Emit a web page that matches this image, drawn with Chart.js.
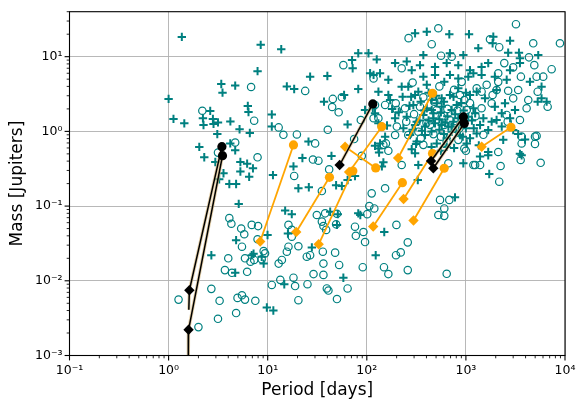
<!DOCTYPE html>
<html><head><meta charset="utf-8">
<script src="https://cdn.jsdelivr.net/npm/chart.js@4.4.1/dist/chart.umd.min.js"></script>
<style>html,body{margin:0;padding:0;background:#fff}#wrap{width:576px;height:399px;position:relative}</style>
</head><body><div id="wrap"><canvas id="c"></canvas></div>
<script>
// ---- data: [period (days), mass (Jupiter masses)] ----
const crossPoints = [
[1.36,18.4],[1.0,2.72],[1.12,1.47],[1.44,1.28],[2.04,0.62],[8.5,14.4],[13.7,12.6],[7.9,6.4],[3.4,4.3],[3.5,3.3],
[4.7,4.1],[15.6,4.0],[18.5,3.7],[26.8,5.4],[40,5.5],[72,7.0],[2.63,1.88],[2.22,1.5],[2.8,1.47],[2.25,1.22],
[2.84,1.26],[3.15,1.32],[4.2,1.36],[6.3,2.19],[6.4,1.82],[11.0,1.68],[11.0,1.16],[37,2.5],[64,1.24],[5.2,1.07],
[6.6,0.95],[3.1,0.92],[82,3.7],[82,11.1],[2.29,0.45],[2.96,0.39],[3.58,0.275],[3.24,0.228],[4.19,0.69],[4.7,0.56],
[5.3,0.39],[6.2,0.37],[7.1,0.32],[5.3,0.29],[6.5,0.247],[4.1,0.198],[4.8,0.198],[5.1,0.107],[11.3,0.26],[15,0.087],
[17.5,0.078],[18.2,0.34],[20.4,0.173],[4.8,0.035],[2.7,0.022],[4.7,0.0128],[6.9,0.022],[8.7,0.021],[9.1,0.017],[9.8,0.0044],
[11.4,0.004],[14.7,0.009],[16,0.043],[7.2,0.023],[9.96,0.041],[27.9,0.028],[50,0.056],[58,0.011],[82,0.08],[123,0.022],
[150,0.045],[44,0.47],[22.4,0.44],[26,0.179],[49,0.19],[56,0.186],[76,0.253],[86,0.076],[776,0.131],[942,0.374],
[1720,0.269],[3510,0.5],[2380,0.77],[1390,0.46],[1680,0.48],[3950,0.78],[136,0.69],[147,0.385],[327,0.223],[59,3.07],
[25.8,0.73],[64,0.223],[42.7,0.084],[51,0.078],[121,0.64],[133,0.52],[284,0.576],[307,0.51],[314,0.68],[3370,0.92],
[142,0.34],[104,11.1],[117,5.7],[165,4.9],[307,20.6],[403,21.6],[680,20],[1075,20],[1334,13],[1890,18.5],
[2790,16.4],[3510,9.5],[5370,10.5],[4430,4.6],[5800,2.77],[1860,15.1],[2670,11.3],[3430,11.3],[372,10.5],[690,11.1],
[942,10.5],[126,9.2],[193,8.2],[253,8.6],[284,6.6],[344,7.7],[488,7.3],[640,8.2],[838,7.7],[1100,6.6],
[1440,7.3],[1680,8.2],[2790,6.6],[3510,8.2],[5800,3.97],[5300,2.5],[6530,2.5],[108,6.0],[136,6.0],[262,3.97],
[372,5.4],[403,4.2],[488,5.7],[605,4.6],[690,5.7],[838,5.1],[1057,5.4],[1190,6.0],[1440,5.7],[1960,5.4],
[2580,4.9],[1560,2.77],[1960,2.14],[2480,2.38],[3130,1.93],[2040,1.42],[1240,1.75],[1500,1.5],[131,3.4],[165,3.07],
[225,3.97],[307,3.07],[452,2.63],[372,1.66],[452,1.93],[570,2.14],[719,1.93],[838,1.5],[1057,1.57],[1190,2.04],
[253,1.57],[307,1.22],[387,1.16],[488,1.28],[665,1.16],[1390,1.22],[1680,1.04],[2300,1.16],[3000,1.04],[121,1.75],
[131,1.28],[96,1.93],[172,2.63],[331,3.4],[570,2.77],[690,3.07],[838,3.78],[1100,3.07],[1285,3.4],[2040,3.58],
[295,2.26],[403,2.04],[508,2.38],[808,2.26],[1820,1.35],[2300,1.75],[2790,1.5],[3650,0.48],[319,1.35],[469,1.5],
[570,1.22],[746,1.35],[719,0.99],[871,0.895],[1100,0.81],[1285,0.94],[1020,0.69],[1680,0.53],[273,0.895],[319,0.73],
[387,0.895],[508,0.69],[640,0.81],[153,0.85],[131,0.59],[331,0.355],[115,2.04],[193,1.5],[234,1.1],[71,9.0],
[280,2.9],[350,2.5],[420,3.3],[500,3.0],[600,2.5],[750,2.9],[900,2.4],[1000,3.3],[380,1.9],[470,1.75],
[560,1.8],[650,1.6],[780,1.7],[950,1.9],[1150,1.4],[340,1.4],[420,1.4],[540,1.45],[620,1.3],[720,1.15],
[880,1.25],[1000,1.1],[290,1.05],[360,1.02],[450,1.0],[540,1.05],[600,0.92],[800,0.98],[930,0.85],[270,2.2],
[230,2.9],[210,1.8],[180,2.0],[160,1.2],[640,0.62],[760,0.6],[560,0.55],[450,0.62],[1200,1.1],[1350,0.65]
];
const ringPoints = [
[6.8,3.93],[2.19,1.89],[7.3,1.39],[12.9,1.13],[58,7.7],[44.7,2.12],[52,1.8],[56,2.86],[40.4,1.05],[19.7,0.91],
[14.4,0.9],[4.7,0.71],[3.15,0.52],[7.9,0.45],[4.1,0.069],[4.3,0.058],[5.4,0.05],[5.8,0.042],[8.0,0.054],[5.5,0.0286],
[18.5,0.253],[17.5,0.039],[16.2,0.0286],[20.4,0.029],[1.26,0.0056],[2.7,0.0078],[3.27,0.0054],[4.0,0.02],[3.7,0.0139],[4.36,0.0128],
[4.96,0.0059],[5.5,0.0064],[5.9,0.0056],[7.5,0.0054],[4.8,0.0037],[3.15,0.0031],[2.0,0.0024],[5.9,0.02],[6.2,0.0132],[6.7,0.018],
[7.3,0.019],[8.7,0.0194],[9.1,0.025],[7.9,0.036],[11,0.0088],[12.9,0.017],[13.9,0.019],[15.6,0.0245],[18.2,0.011],[18.9,0.0085],
[20.4,0.0055],[9.4,0.0233],[17.5,0.048],[24.8,0.021],[31.3,0.076],[38,0.08],[50,0.079],[35.2,0.062],[36.5,0.054],[76,0.053],
[36.5,0.017],[47.9,0.0238],[52.6,0.0163],[29,0.0123],[13.4,0.0103],[25.2,0.009],[39.5,0.0079],[41,0.0074],[50,0.0057],[64,0.0079],
[36,0.0245],[77.5,0.04],[96,0.033],[91,0.0152],[149,0.0152],[165,0.0123],[197,0.022],[220,0.024],[259,0.0327],[259,0.0139],
[640,0.0124],[74.5,0.79],[28.6,0.42],[32.5,0.405],[41.7,0.31],[112,0.148],[153,0.173],[106,0.1],[119,0.093],[156,0.69],
[165,0.55],[199,0.056],[225,0.355],[665,0.374],[680,0.121],[605,0.093],[527,0.076],[605,0.074],[1240,0.355],[1390,0.355],
[2120,0.53],[2240,0.344],[2170,0.212],[3570,0.414],[3650,0.69],[4980,0.85],[4980,0.68],[5680,0.38],[36.5,0.012],[264,17.7],
[527,24],[3200,27.2],[1750,17.1],[4780,15.1],[8890,15.1],[452,14.7],[2170,13.4],[561,10.3],[719,10],[2440,8.2],
[3000,7.2],[4330,9.8],[4900,7.7],[7330,6.8],[5170,5.4],[6030,5.4],[3590,5.4],[2120,6.0],[2120,4.6],[2040,3.58],
[1620,4.2],[2670,3.5],[3370,3.58],[4260,2.63],[5300,3.4],[6680,2.14],[225,7.0],[117,5.1],[196,2.38],[201,1.93],
[243,2.04],[201,1.16],[871,3.07],[964,2.63],[1285,3.78],[1440,3.4],[1860,3.07],[2580,1.66],[2640,1.35],[3510,1.42],
[5170,0.87],[570,1.57],[153,2.26],[87,1.42],[907,4.6],[344,2.14],[117,1.5],[147,0.66],[193,0.895],[331,0.99],
[372,0.66],[640,0.73],[838,0.77],[964,0.59],[1190,0.355],[548,0.121],[1440,2.04],[1820,2.38],[3000,2.77],[4100,2.04],
[3650,0.85],[30.1,0.69],[35.2,0.159],[6.9,0.056],[16.2,0.056],[38.9,0.048],[49,0.057],[92.5,0.045],[26.8,0.022],[101,0.078],
[23.9,3.48],[45.4,2.72],[131,1.5],[89,0.47],[605,1.22],[776,1.1],[1020,1.93],[372,2.86],[508,1.93],[262,0.895],
[121,2.26],[434,1.22],
[300,1.7],[480,2.5],[650,2.0],[820,1.9],[1100,2.4],[400,1.3],[700,1.4],[860,1.1],[1250,1.6],[350,0.8],
[560,0.85],[1000,0.55],[250,1.35],[470,0.92],[1500,0.9],[290,4.5],[540,4.0],[760,3.6]
];
// orange tracks: start (diamond) -> end (circle)
const orangeStart = [[8.4,0.0336],[19.4,0.045],[32.7,0.0308],[66.3,0.286],[60.4,0.624],[207,0.44],[116,0.0533],[235,0.1245],[296,0.0642],[1443,0.624]];
const orangeEnd   = [[18.2,0.658],[42,0.243],[72.3,0.295],[141.6,1.156],[123,0.324],[460,3.24],[228.5,0.206],[460,0.506],[604,0.321],[2850,1.135]];
// black tracks: end (circle) -> start (diamond) -> tail
const blackStart = [[1.62,0.00746],[1.59,0.00221],[53.2,0.355],[445,0.402],[469,0.321]];
const blackEnd   = [[3.45,0.624],[3.5,0.473],[115,2.33],[942,1.56],[964,1.28]];
const blackTail  = [[1.6,0.0041],[1.58,0.0006],null,null,null];
const xTickExps = [-1,0,1,2,3,4];
const yTickExps = [-3,-2,-1,0,1];

// ---- helpers ----
const SUP = {'-':'⁻','0':'⁰','1':'¹','2':'²','3':'³','4':'⁴','5':'⁵','6':'⁶','7':'⁷','8':'⁸','9':'⁹'};
const sup = n => String(n).split('').map(c => SUP[c]).join('');
const isMajor = v => { const l = Math.log10(v); return Math.abs(l - Math.round(l)) < 1e-6; };
function logTicks(exps, maxVal) {
  const out = [];
  for (let i = 0; i < exps.length; i++) for (let m = 1; m <= 9; m++) {
    const v = m * Math.pow(10, exps[i]);
    if (v <= maxVal * 1.000001) out.push({value: v});
  }
  return out;
}
const toXY = p => ({x: p[0], y: p[1]});
const TEAL = '#008080', ORANGE = '#ffa500';

const datasets = [];
datasets.push({label:'rv', data: crossPoints.map(toXY), pointStyle:'cross', pointRadius:4.2, pointBorderWidth:2,
  borderColor:TEAL, backgroundColor:TEAL, order:100, clip:0});
datasets.push({label:'tr', data: ringPoints.map(toXY), pointStyle:'circle', pointRadius:3.7, pointBorderWidth:1.2,
  borderColor:TEAL, backgroundColor:'rgba(0,0,0,0)', order:101, clip:0});
orangeStart.forEach((s, i) => {
  datasets.push({data:[toXY(s), toXY(orangeEnd[i])], showLine:true, borderColor:ORANGE, borderWidth:1.8,
    pointStyle:['rectRot','circle'], pointRadius:[5.2,4.6], pointBackgroundColor:ORANGE, pointBorderColor:ORANGE,
    pointBorderWidth:0, order:50, clip:0});
});
blackStart.forEach((s, i) => {
  const pts = [toXY(blackEnd[i]), toXY(s)];
  if (blackTail[i]) pts.push(toXY(blackTail[i]));
  datasets.push({data:pts, showLine:true, borderColor:'rgba(215,185,130,0.7)', borderWidth:3.2, pointRadius:0, order:20, clip:0});
  datasets.push({data:pts, showLine:true, borderColor:'#000', borderWidth:1.5,
    pointStyle:['circle','rectRot','circle'], pointRadius:[4.6,5.2,0], pointBackgroundColor:'#000', pointBorderColor:'#000',
    pointBorderWidth:0, order:10, clip:0});
});

const frameTicks = {
  id:'frameTicks',
  afterDraw(chart) {
    const {ctx, chartArea:a, scales:{x, y}} = chart;
    ctx.save();
    ctx.strokeStyle = '#000';
    x.ticks.forEach(t => {
      const p = x.getPixelForValue(t.value), mj = isMajor(t.value);
      ctx.lineWidth = mj ? 1.1 : 0.85;
      ctx.beginPath(); ctx.moveTo(p, a.bottom); ctx.lineTo(p, a.bottom + (mj ? 4.9 : 2.8)); ctx.stroke();
    });
    y.ticks.forEach(t => {
      const p = y.getPixelForValue(t.value), mj = isMajor(t.value);
      ctx.lineWidth = mj ? 1.1 : 0.85;
      ctx.beginPath(); ctx.moveTo(a.left, p); ctx.lineTo(a.left - (mj ? 4.9 : 2.8), p); ctx.stroke();
    });
    ctx.lineWidth = 1.1;
    ctx.strokeRect(a.left, a.top, a.right - a.left, a.bottom - a.top);
    ctx.restore();
  }
};

const tickFont = {family:'DejaVu Sans', size:12.5};
const gridOpts = {
  color: c => (c.tick && isMajor(c.tick.value)) ? '#b0b0b0' : 'rgba(0,0,0,0)',
  lineWidth: 0.9, drawTicks:false
};
const noPad = s => { s.paddingLeft = 0; s.paddingRight = 0; s.paddingTop = 0; s.paddingBottom = 0; };
new Chart(document.getElementById('c'), {
  type:'scatter',
  data:{datasets},
  options:{
    responsive:true, maintainAspectRatio:false, animation:false,
    layout:{padding:{top:11.7, right:11, left:0, bottom:0}},
    plugins:{legend:{display:false}, tooltip:{enabled:false}},
    scales:{
      x:{type:'logarithmic', min:0.1, max:10000, position:'bottom',
        afterBuildTicks: s => { s.ticks = logTicks(xTickExps, 10000); },
        afterFit: s => { s.height = 43.5; noPad(s); },
        ticks:{autoSkip:false, maxRotation:0, padding:8, color:'#000', font:tickFont,
          callback: v => isMajor(v) ? '10' + sup(Math.round(Math.log10(v))) : ''},
        grid:gridOpts, border:{display:false},
        title:{display:true, text:'Period [days]', color:'#000', font:{family:'DejaVu Sans', size:17}, padding:{top:0,bottom:-2}}
      },
      y:{type:'logarithmic', min:0.001, max:40, position:'left',
        afterBuildTicks: s => { s.ticks = logTicks(yTickExps, 40); },
        afterFit: s => { s.width = 69.5; noPad(s); },
        ticks:{autoSkip:false, padding:7, color:'#000', font:tickFont,
          callback: v => isMajor(v) ? '10' + sup(Math.round(Math.log10(v))) : ''},
        grid:gridOpts, border:{display:false},
        title:{display:true, text:'Mass [Jupiters]', color:'#000', font:{family:'DejaVu Sans', size:17}, padding:{top:7,bottom:0}}
      }
    }
  },
  plugins:[frameTicks]
});
</script></body></html>
